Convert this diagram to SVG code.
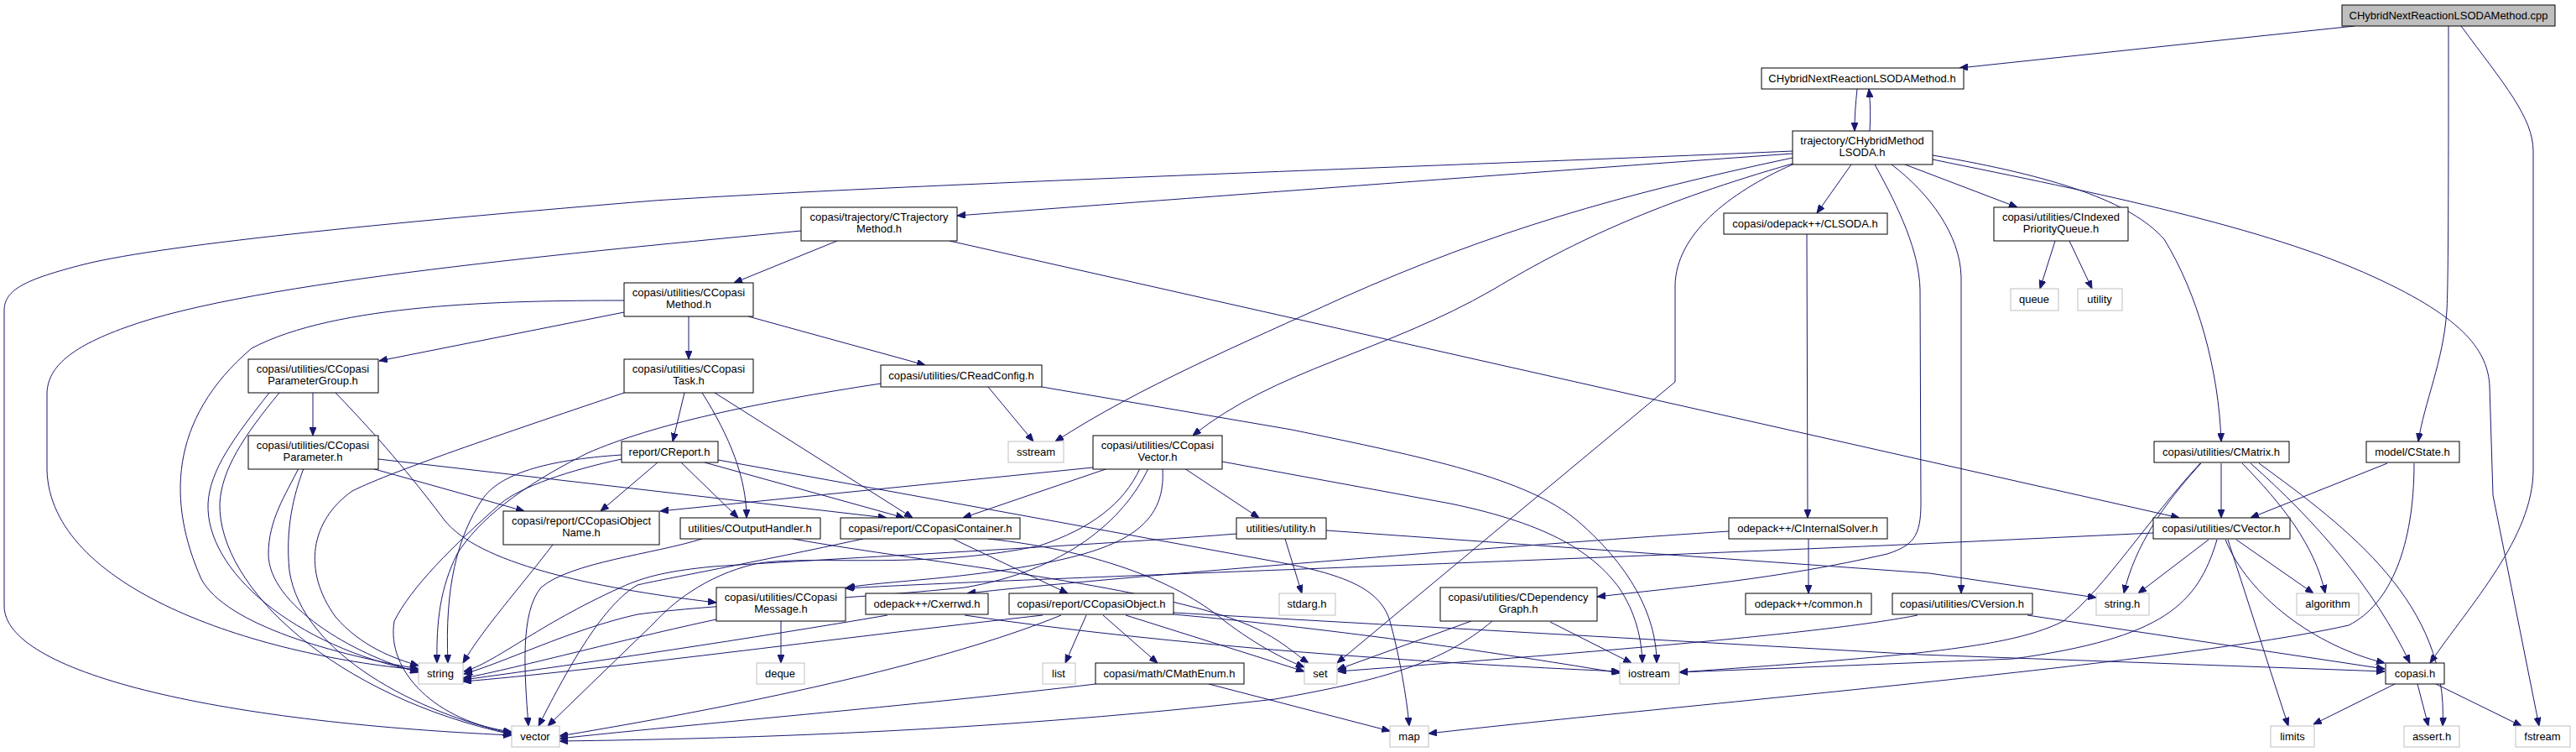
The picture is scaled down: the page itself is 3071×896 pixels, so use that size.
<svg xmlns="http://www.w3.org/2000/svg" width="3071" height="896" viewBox="0 0 3071 896">
<style>
.n rect{fill:#fff;stroke:#000;stroke-width:1}
.x rect{fill:#fff;stroke:#bfbfbf;stroke-width:1}
.r rect{fill:#bfbfbf;stroke:#000;stroke-width:1}
text{font-family:"Liberation Sans",Arial,sans-serif;font-size:13px;fill:#000;text-anchor:middle}
.e path{fill:none;stroke:#191970;stroke-width:1;marker-end:url(#a)}
</style>
<defs>
<marker id="a" viewBox="0 0 10 8" refX="10" refY="4" markerWidth="10" markerHeight="8" markerUnits="userSpaceOnUse" orient="auto"><path d="M0,0 L10,4 L0,8 z" fill="#191970" stroke="#191970"/></marker>
</defs>
<rect width="3071" height="896" fill="#fff"/>
<g class="e" id="edges">
<path d="M2807,31 L2336,81"/>
<path d="M2919,31 C2919,200 2919,330 2917,370 C2913,430 2890,480 2883,526"/>
<path d="M2934,31 C2985,100 3020,140 3020,180 L3020,560 C3020,640 2945,720 2897,790"/>
<path d="M2214,106 C2212,125 2211,140 2211,156"/>
<path d="M2229,156 C2230,140 2230,125 2228,106"/>
<path d="M2137,180 C1800,195 1100,218 780,239 C500,262 200,290 100,315 C30,333 5,345 5,370 L5,722 C5,800 250,860 610,876"/>
<path d="M2137,183 C1900,200 1500,230 1141,257"/>
<path d="M2137,188 C1930,232 1780,275 1600,355 C1480,410 1360,460 1258,526"/>
<path d="M2137,195 C1980,240 1880,285 1780,345 C1650,420 1520,440 1422,519"/>
<path d="M2137,196 C2060,230 1998,280 1997,340 L1997,455 L1594,790"/>
<path d="M2207,196 L2166,254"/>
<path d="M2235,196 C2265,250 2288,300 2289,345 L2290,600 C2290,640 2280,650 2250,660 C2120,690 2000,700 1904,711"/>
<path d="M2255,196 C2300,230 2337,280 2338,330 L2338,707"/>
<path d="M2271,196 L2405,247"/>
<path d="M2304,185 C2450,210 2540,240 2580,285 C2620,350 2645,440 2648,526"/>
<path d="M2304,190 C2500,230 2700,270 2830,330 C2940,380 2966,420 2968,460 L2972,590 L3027,865"/>
<path d="M2450,287 L2432,344"/>
<path d="M2467,287 L2494,344"/>
<path d="M998,287 L875,337"/>
<path d="M1132,287 L2598,617"/>
<path d="M955,275 C700,300 300,335 150,390 C80,415 56,440 56,470 L56,560 C60,700 300,780 499,798"/>
<path d="M744,372 L452,430"/>
<path d="M821,377 L821,428"/>
<path d="M892,377 L1103,435"/>
<path d="M744,358 C600,358 400,362 300,415 C200,500 200,600 240,690 C270,745 400,780 499,797"/>
<path d="M373,468 L373,519"/>
<path d="M321,468 C280,520 250,560 248,600 C245,680 350,770 499,800"/>
<path d="M333,468 C290,520 264,560 262,600 C260,700 400,830 610,875"/>
<path d="M400,468 C460,530 500,580 530,620 C570,670 700,700 854,718"/>
<path d="M356,558 C340,590 320,620 320,660 C320,720 420,780 499,801"/>
<path d="M362,558 C350,590 340,630 345,680 C360,780 500,850 610,874"/>
<path d="M443,558 L625,609"/>
<path d="M451,547 L1057,617"/>
<path d="M816,468 L802,526"/>
<path d="M837,468 C870,520 890,570 890,617"/>
<path d="M852,468 L1088,617"/>
<path d="M744,468 C620,510 470,560 420,585 C370,620 360,680 400,735 C430,770 470,785 499,793"/>
<path d="M784,551 L716,609"/>
<path d="M812,551 L880,617"/>
<path d="M840,551 L1078,617"/>
<path d="M856,548 L1520,669 C1600,684 1645,700 1657,740 C1668,780 1677,830 1680,865"/>
<path d="M741,542 C650,548 595,565 575,595 C545,640 530,700 534,790"/>
<path d="M1050,457 C900,480 780,505 700,540 C620,580 570,620 545,660 C525,700 520,740 521,790"/>
<path d="M741,547 C680,560 620,580 597,600 C540,650 490,700 470,740 C460,800 520,860 610,872"/>
<path d="M659,649 C620,700 575,750 552,790"/>
<path d="M837,642 C780,660 680,670 645,700 C620,730 625,800 630,865"/>
<path d="M945,642 C1100,670 1400,700 1500,750 C1530,765 1545,780 1560,790"/>
<path d="M1136,642 L1273,707"/>
<path d="M1178,642 C1300,655 1400,690 1460,740 C1500,770 1530,785 1555,795"/>
<path d="M1029,642 C900,670 790,690 760,697 C720,720 680,790 642,865"/>
<path d="M1303,557 L787,609"/>
<path d="M1321,558 L1148,617"/>
<path d="M1359,558 C1340,600 1300,630 1240,650 C1100,680 960,660 900,672 C840,686 800,720 780,742 L653,865"/>
<path d="M1369,558 C1340,620 1270,680 1150,700 C1000,715 850,720 760,732 C680,750 600,790 553,803"/>
<path d="M1386,558 C1390,620 1350,650 1250,670 C1150,690 1060,692 1009,700"/>
<path d="M1412,558 L1501,617"/>
<path d="M1457,550 L1729,600 C1850,625 1900,660 1930,700 C1950,730 1957,760 1958,790"/>
<path d="M1242,461 L1540,512 C1700,545 1820,570 1880,620 C1950,680 1975,740 1975,790"/>
<path d="M1178,461 L1232,526"/>
<path d="M1532,642 L1552,707"/>
<path d="M1581,632 L2300,683 L2499,712"/>
<path d="M1474,636 C1300,650 1000,665 850,675 C800,680 770,686 740,700 C640,745 590,790 553,800"/>
<path d="M931,740 L931,790"/>
<path d="M854,738 C750,760 600,800 552,808"/>
<path d="M1058,733 C900,760 700,790 552,810"/>
<path d="M1150,733 C1400,770 1700,790 1931,800"/>
<path d="M1243,733 C1000,760 700,800 552,812"/>
<path d="M1265,733 C1150,780 950,830 667,877"/>
<path d="M1295,733 L1270,790"/>
<path d="M1315,733 L1380,790"/>
<path d="M1342,733 L1555,800"/>
<path d="M1399,732 C1600,750 1800,780 1931,802"/>
<path d="M1399,730 L2290,780 L2843,800"/>
<path d="M1306,815 C1100,840 800,865 667,880"/>
<path d="M1441,815 L1657,871"/>
<path d="M1754,740 L1594,798"/>
<path d="M1779,740 C1720,790 1650,810 1520,833 C1200,870 900,880 667,883"/>
<path d="M1848,741 L1945,790"/>
<path d="M2156,642 L2156,707"/>
<path d="M2061,633 C1800,650 1300,690 1153,707"/>
<path d="M2154,279 L2155,617"/>
<path d="M2417,733 L2843,797"/>
<path d="M2286,733 C2200,750 2000,770 1595,800"/>
<path d="M2624,552 C2580,600 2545,650 2532,707"/>
<path d="M2623,552 C2560,620 2510,700 2460,740 C2400,770 2300,780 2002,801"/>
<path d="M2648,552 L2648,617"/>
<path d="M2673,552 C2720,600 2760,650 2772,707"/>
<path d="M2683,552 C2760,620 2830,700 2873,790"/>
<path d="M2693,552 C2800,630 2920,720 2912,865"/>
<path d="M2846,552 L2683,617"/>
<path d="M2878,552 C2878,650 2850,720 2800,745 C2600,790 2000,840 1703,874"/>
<path d="M2633,643 L2549,707"/>
<path d="M2666,643 L2758,707"/>
<path d="M2656,643 L2728,865"/>
<path d="M2653,643 C2680,710 2760,770 2843,790"/>
<path d="M2643,643 C2620,720 2580,760 2400,785 L2002,801"/>
<path d="M2567,635 L2290,648 C1800,670 1200,690 1008,701"/>
<path d="M2855,815 L2758,863"/>
<path d="M2882,815 L2895,865"/>
<path d="M2904,815 L3006,865"/>
</g>
<g class="r" id="n_cpp"><rect x="2792" y="6" width="254" height="25"/><text x="2919" y="23">CHybridNextReactionLSODAMethod.cpp</text></g>
<g class="n" id="n_h"><rect x="2100" y="81" width="241" height="25"/><text x="2220" y="98">CHybridNextReactionLSODAMethod.h</text></g>
<g class="n" id="n_lsoda"><rect x="2137" y="156" width="167" height="40"/><text x="2220" y="172">trajectory/CHybridMethod</text><text x="2220" y="186">LSODA.h</text></g>
<g class="n" id="n_trajm"><rect x="955" y="247" width="186" height="40"/><text x="1048" y="263">copasi/trajectory/CTrajectory</text><text x="1048" y="277">Method.h</text></g>
<g class="n" id="n_clsoda"><rect x="2055" y="254" width="195" height="25"/><text x="2152" y="271">copasi/odepack++/CLSODA.h</text></g>
<g class="n" id="n_ipq"><rect x="2377" y="247" width="160" height="40"/><text x="2457" y="263">copasi/utilities/CIndexed</text><text x="2457" y="277">PriorityQueue.h</text></g>
<g class="x" id="n_queue"><rect x="2397" y="344" width="57" height="26"/><text x="2425" y="361">queue</text></g>
<g class="x" id="n_utility"><rect x="2477" y="344" width="53" height="26"/><text x="2503" y="361">utility</text></g>
<g class="n" id="n_cmethod"><rect x="744" y="337" width="154" height="40"/><text x="821" y="353">copasi/utilities/CCopasi</text><text x="821" y="367">Method.h</text></g>
<g class="n" id="n_pgroup"><rect x="296" y="428" width="155" height="40"/><text x="373" y="444">copasi/utilities/CCopasi</text><text x="373" y="458">ParameterGroup.h</text></g>
<g class="n" id="n_ctask"><rect x="744" y="428" width="154" height="40"/><text x="821" y="444">copasi/utilities/CCopasi</text><text x="821" y="458">Task.h</text></g>
<g class="n" id="n_readconfig"><rect x="1050" y="435" width="192" height="26"/><text x="1146" y="452">copasi/utilities/CReadConfig.h</text></g>
<g class="x" id="n_sstream"><rect x="1202" y="526" width="66" height="25"/><text x="1235" y="543">sstream</text></g>
<g class="n" id="n_ccvector"><rect x="1303" y="519" width="154" height="40"/><text x="1380" y="535">copasi/utilities/CCopasi</text><text x="1380" y="549">Vector.h</text></g>
<g class="n" id="n_param"><rect x="296" y="519" width="155" height="40"/><text x="373" y="535">copasi/utilities/CCopasi</text><text x="373" y="549">Parameter.h</text></g>
<g class="n" id="n_creport"><rect x="741" y="526" width="115" height="25"/><text x="798" y="543">report/CReport.h</text></g>
<g class="n" id="n_objname"><rect x="600" y="609" width="186" height="40"/><text x="693" y="625">copasi/report/CCopasiObject</text><text x="693" y="639">Name.h</text></g>
<g class="n" id="n_outh"><rect x="811" y="617" width="167" height="25"/><text x="894" y="634">utilities/COutputHandler.h</text></g>
<g class="n" id="n_container"><rect x="1002" y="617" width="214" height="25"/><text x="1109" y="634">copasi/report/CCopasiContainer.h</text></g>
<g class="n" id="n_utilh"><rect x="1474" y="617" width="107" height="25"/><text x="1527" y="634">utilities/utility.h</text></g>
<g class="n" id="n_isolver"><rect x="2061" y="617" width="189" height="25"/><text x="2155" y="634">odepack++/CInternalSolver.h</text></g>
<g class="n" id="n_cmatrix"><rect x="2568" y="526" width="161" height="25"/><text x="2648" y="543">copasi/utilities/CMatrix.h</text></g>
<g class="n" id="n_cstate"><rect x="2821" y="526" width="111" height="25"/><text x="2876" y="543">model/CState.h</text></g>
<g class="n" id="n_cvec"><rect x="2567" y="617" width="163" height="25"/><text x="2648" y="634">copasi/utilities/CVector.h</text></g>
<g class="n" id="n_message"><rect x="854" y="700" width="154" height="40"/><text x="931" y="716">copasi/utilities/CCopasi</text><text x="931" y="730">Message.h</text></g>
<g class="n" id="n_cxerrwd"><rect x="1032" y="707" width="146" height="25"/><text x="1105" y="724">odepack++/Cxerrwd.h</text></g>
<g class="n" id="n_cobject"><rect x="1203" y="707" width="196" height="25"/><text x="1301" y="724">copasi/report/CCopasiObject.h</text></g>
<g class="x" id="n_stdarg"><rect x="1525" y="707" width="67" height="26"/><text x="1558" y="724">stdarg.h</text></g>
<g class="n" id="n_depgraph"><rect x="1717" y="700" width="187" height="40"/><text x="1810" y="716">copasi/utilities/CDependency</text><text x="1810" y="730">Graph.h</text></g>
<g class="n" id="n_common"><rect x="2081" y="707" width="150" height="25"/><text x="2156" y="724">odepack++/common.h</text></g>
<g class="n" id="n_cversion"><rect x="2256" y="707" width="167" height="25"/><text x="2339" y="724">copasi/utilities/CVersion.h</text></g>
<g class="x" id="n_stringh"><rect x="2499" y="707" width="63" height="26"/><text x="2530" y="724">string.h</text></g>
<g class="x" id="n_algorithm"><rect x="2738" y="707" width="74" height="26"/><text x="2775" y="724">algorithm</text></g>
<g class="x" id="n_string"><rect x="499" y="790" width="53" height="25"/><text x="525" y="807">string</text></g>
<g class="x" id="n_deque"><rect x="902" y="790" width="57" height="25"/><text x="930" y="807">deque</text></g>
<g class="x" id="n_list"><rect x="1243" y="790" width="39" height="25"/><text x="1262" y="807">list</text></g>
<g class="n" id="n_mathenum"><rect x="1306" y="790" width="177" height="25"/><text x="1394" y="807">copasi/math/CMathEnum.h</text></g>
<g class="x" id="n_set"><rect x="1555" y="790" width="39" height="25"/><text x="1574" y="807">set</text></g>
<g class="x" id="n_iostream"><rect x="1931" y="790" width="71" height="25"/><text x="1966" y="807">iostream</text></g>
<g class="n" id="n_copasi"><rect x="2844" y="790" width="70" height="25"/><text x="2879" y="807">copasi.h</text></g>
<g class="x" id="n_vector"><rect x="610" y="865" width="57" height="25"/><text x="638" y="882">vector</text></g>
<g class="x" id="n_map"><rect x="1657" y="865" width="46" height="25"/><text x="1680" y="882">map</text></g>
<g class="x" id="n_limits"><rect x="2707" y="865" width="52" height="25"/><text x="2733" y="882">limits</text></g>
<g class="x" id="n_assert"><rect x="2866" y="865" width="66" height="25"/><text x="2899" y="882">assert.h</text></g>
<g class="x" id="n_fstream"><rect x="2999" y="865" width="65" height="25"/><text x="3031" y="882">fstream</text></g>
</svg>
